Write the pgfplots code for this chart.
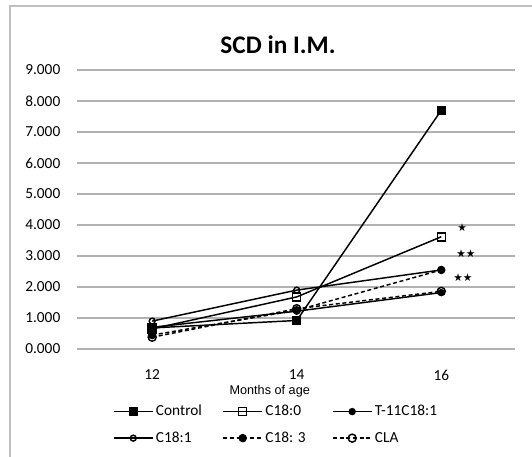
\documentclass[border=0pt]{standalone}
\usepackage{pgfplots}
\pgfplotsset{compat=1.18}
\usepackage{fontspec}
\setmainfont{Carlito}
\newfontfamily\arialfont{Liberation Sans}
\newfontfamily\symfont{DejaVu Sans}

\begin{document}
\begin{tikzpicture}[x=0.75pt,y=0.75pt]
\useasboundingbox (0,0) rectangle (532,457);
% chart frame (only left and top edges are visible in the scan)
\draw[black!25, line width=0.8pt] (10,0) -- (10,451) -- (532,451);
\node[font=\bfseries\fontsize{19}{22}\selectfont] at (278,412) {SCD in I.M.};
\begin{axis}[
    at={(57.75pt,81pt)}, anchor=south west,
    scale only axis, width=328.5pt, height=209.25pt,
    xmin=-0.52, xmax=2.51, ymin=0, ymax=9,
    xtick={0,1,2}, xticklabels={12,14,16},
    ytick={0,1,...,9},
    /pgf/number format/.cd, fixed, fixed zerofill, precision=3, assume math mode=true,
    /pgfplots/.cd,
    axis line style={draw=none},
    ymajorgrids,
    major grid style={black!30, line width=0.8pt},
    major tick length=0pt,
    tick label style={font=\fontsize{11.5}{13}\selectfont},
    yticklabel style={xshift=-9pt},
    xticklabel style={yshift=-12pt},
    xlabel={\arialfont Months of age},
    xlabel style={at={(axis description cs:0.44,0)}, anchor=center, yshift=-32pt, font=\fontsize{9.5}{11}\selectfont},
    clip=false,
    legend columns=3,
    legend cell align=left,
    legend style={at={(axis description cs:0.082,0)}, anchor=north west, yshift=-40pt,
        draw=none, fill=none, font=\fontsize{11.5}{13}\selectfont,
        column sep=0pt, row sep=6.5pt, inner sep=0pt},
    legend image code/.code={\draw[mark repeat=2,mark phase=2,#1] plot coordinates {(0pt,0pt) (14.5pt,0pt) (29pt,0pt)};},
    every axis plot/.append style={black, line width=1.1pt},
]
\addplot[mark=square*, mark size=3pt] coordinates {(0,0.68) (1,0.92) (2,7.7)};
\addlegendentry{\makebox[48pt][l]{Control}}
\addplot[mark=square, mark size=3pt, mark options={fill=white, solid}] coordinates {(0,0.65) (1,1.68) (2,3.62)};
\addlegendentry{\makebox[48pt][l]{C18:0}}
\addplot[mark=*, mark size=2.2pt] coordinates {(0,0.7) (1,1.22) (2,1.82)};
\addlegendentry{T-11C18:1}
\addplot[mark=o, mark size=2.2pt, mark options={fill=white, solid}] coordinates {(0,0.9) (1,1.9) (2,2.55)};
\addlegendentry{\makebox[48pt][l]{C18:1}}
\addplot[dash pattern=on 3pt off 2pt, mark=*, mark size=2.6pt, mark options={solid}] coordinates {(0,0.45) (1,1.25) (2,2.55)};
\addlegendentry{\makebox[48pt][l]{C18: 3}}
\addplot[dash pattern=on 3pt off 2pt, mark=o, mark size=3pt, mark options={fill=white, solid}] coordinates {(0,0.38) (1,1.3) (2,1.86)};
\addlegendentry{CLA}
\node[font=\symfont\fontsize{8}{9}\selectfont] at (axis cs:2.145,3.9) {★};
\node[font=\symfont\fontsize{8}{9}\selectfont] at (axis cs:2.17,3.06) {★★};
\node[font=\symfont\fontsize{8}{9}\selectfont] at (axis cs:2.15,2.29) {★★};
\end{axis}
\end{tikzpicture}
\end{document}
